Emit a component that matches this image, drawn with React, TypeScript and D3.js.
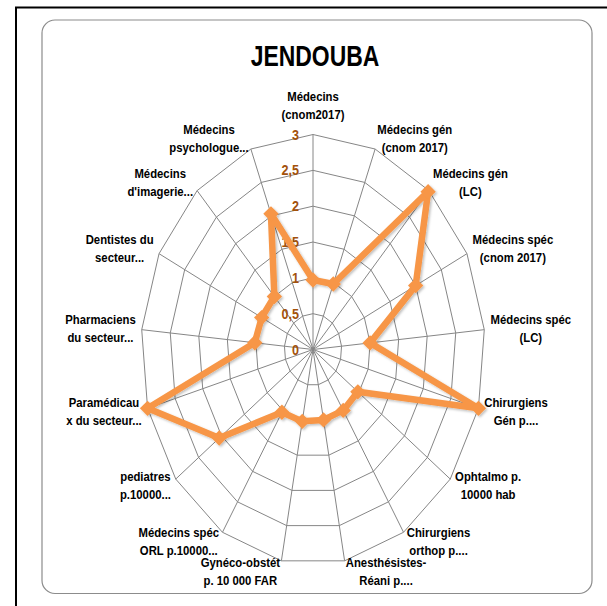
import React, { useEffect, useRef } from "react";
import * as d3 from "d3";

const title = "JENDOUBA";

const categories = [
  ["Médecins", "(cnom2017)"],
  ["Médecins gén", "(cnom 2017)"],
  ["Médecins gén", "(LC)"],
  ["Médecins spéc", "(cnom 2017)"],
  ["Médecins spéc", "(LC)"],
  ["Chirurgiens", "Gén p...."],
  ["Ophtalmo p.", "10000 hab"],
  ["Chirurgiens", "orthop p...."],
  ["Anesthésistes-", "Réani p...."],
  ["Gynéco-obstét", "p. 10 000 FAR"],
  ["Médecins spéc", "ORL p.10000..."],
  ["pediatres", "p.10000..."],
  ["Paramédicau", "x du secteur..."],
  ["Pharmaciens", "du secteur..."],
  ["Dentistes du", "secteur..."],
  ["Médecins", "d'imagerie..."],
  ["Médecins", "psychologue..."],
];

const values = [0.97, 0.98, 2.98, 2.0, 1.0, 3.0, 0.98, 1.0, 1.0, 1.02, 1.03, 2.05, 3.0, 1.02, 1.0, 1.0, 2.03];

const ticks = [0, 0.5, 1, 1.5, 2, 2.5, 3];
const tickLabels = ["0", "0,5", "1", "1,5", "2", "2,5", "3"];

const W = 607;
const H = 606;
const FONT = "'Liberation Sans', Arial, sans-serif";
const NARROW = 0.84;

const App = () => {
  const ref = useRef<SVGSVGElement>(null);

  useEffect(() => {
    const svg = d3.select(ref.current);
    svg.selectAll("*").remove();

    const cx = 313;
    const cy = 349.5;
    const rx = 172;
    const ry = 215;
    const n = categories.length;

    const r = d3.scaleLinear().domain([0, 3]).range([0, 1]);
    const angle = d3.scaleLinear().domain([0, n]).range([0, 2 * Math.PI]);
    const px = (i: number, v: number) => cx + rx * r(v) * Math.sin(angle(i));
    const py = (i: number, v: number) => cy - ry * r(v) * Math.cos(angle(i));

    const defs = svg.append("defs");
    const f = defs.append("filter").attr("id", "shadow").attr("x", "-20%").attr("y", "-20%").attr("width", "140%").attr("height", "140%");
    f.append("feDropShadow").attr("dx", 1.5).attr("dy", 1.5).attr("stdDeviation", 1.2).attr("flood-color", "#000").attr("flood-opacity", 0.25);

    svg.append("rect").attr("width", W).attr("height", H).attr("fill", "#fff");

    // frames
    svg.append("rect").attr("x", 16).attr("y", 7.5).attr("width", 640).attr("height", 640)
      .attr("fill", "none").attr("stroke", "#000").attr("stroke-width", 2);
    svg.append("rect").attr("x", 42).attr("y", 20).attr("width", 550).attr("height", 573.5).attr("rx", 13)
      .attr("fill", "#fff").attr("stroke", "#8c8c8c").attr("stroke-width", 1.2);

    svg.append("text").attr("transform", "translate(315,66) scale(0.79,1)").attr("text-anchor", "middle")
      .attr("font-family", FONT).attr("font-weight", "bold").attr("font-size", 29)
      .attr("fill", "#000").text(title);

    const idx = d3.range(n);
    const grid = svg.append("g").attr("stroke", "#868686").attr("stroke-width", 1).attr("fill", "none");
    ticks.slice(1).forEach((t) => {
      grid.append("polygon").attr("points", idx.map((i) => `${px(i, t)},${py(i, t)}`).join(" "));
    });
    idx.forEach((i) => {
      grid.append("line").attr("x1", cx).attr("y1", cy).attr("x2", px(i, 3)).attr("y2", py(i, 3));
    });

    // tick labels
    svg.append("g").selectAll("text").data(ticks).enter().append("text")
      .attr("transform", (t) => `translate(${cx - 14},${py(0, t)}) scale(0.9,1)`).attr("dy", "0.36em")
      .attr("text-anchor", "end").attr("font-family", FONT).attr("font-weight", "bold")
      .attr("font-size", 14).attr("fill", "#a3520c")
      .text((t, i) => tickLabels[i]);

    // series
    const line = d3.line<number>().x((v, i) => px(i, v)).y((v, i) => py(i, v)).curve(d3.curveLinearClosed);
    const series = svg.append("g").attr("filter", "url(#shadow)");
    series.append("path").attr("d", line(values)).attr("fill", "none")
      .attr("stroke", "#f79646").attr("stroke-width", 6.5).attr("stroke-linejoin", "round");
    const diamond = d3.symbol().type(d3.symbolDiamond2).size(150);
    series.selectAll("path.m").data(values).enter().append("path").attr("class", "m")
      .attr("d", diamond).attr("fill", "#f79646")
      .attr("transform", (v, i) => `translate(${px(i, v)},${py(i, v)})`);

    // axis labels
    const lh = 18;
    idx.forEach((i) => {
      const a = angle(i);
      const s = Math.sin(a);
      const c = Math.cos(a);
      const vx = px(i, 3);
      const vy = py(i, 3);
      const g = svg.append("g");
      const t = g.append("text").attr("text-anchor", "middle").attr("font-family", FONT)
        .attr("font-weight", "bold").attr("font-size", 13.5).attr("fill", "#000");
      categories[i].forEach((ln, k) => {
        t.append("tspan").attr("x", 0).attr("y", (k - 0.5) * lh).attr("dy", "0.35em").text(ln);
      });
      const w = (t.node() as SVGTextElement).getBBox().width * NARROW;
      let x = vx;
      let y = vy - 11 * c;
      if (Math.abs(s) < 0.05) {
        y = vy - 29.5;
      } else {
        x = vx + Math.sign(s) * (w / 2 + 6 * Math.abs(s));
      }
      g.attr("transform", `translate(${x},${y}) scale(${NARROW},1)`);
    });
  }, []);

  return (
    <svg ref={ref} width={W} height={H} style={{ position: "absolute", left: 0, top: 0 }} />
  );
};

export default App;
